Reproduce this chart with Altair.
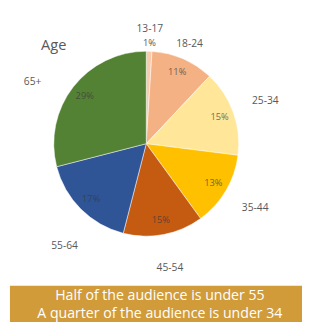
import altair as alt
import pandas as pd

categories = ["13-17", "18-24", "25-34", "35-44", "45-54", "55-64", "65+"]
values = [1, 11, 15, 13, 14, 17, 29]
pct_labels = ["1%", "11%", "15%", "13%", "15%", "17%", "29%"]
colors = ["#F8CBAD", "#F4B183", "#FFE699", "#FFC000", "#C55A11", "#2F5597", "#548235"]
title_text = "Age"
caption = ["Half of the audience is under 55", "A quarter of the audience is under 34"]

df = pd.DataFrame({
    "cat": categories,
    "value": values,
    "pct": pct_labels,
    "idx": list(range(len(categories))),
})

CX, CY = 142, 129

base = alt.Chart(df).encode(
    theta=alt.Theta("value:Q", stack=True),
    order=alt.Order("idx:Q"),
    x=alt.value(CX),
    y=alt.value(CY),
)

pie = base.mark_arc(outerRadius=95, stroke="white", strokeWidth=0.5).encode(
    color=alt.Color("cat:N", scale=alt.Scale(domain=categories, range=colors), legend=None)
)

inner = base.mark_text(
    radius=80, fontSize=9.5, font="Open Sans", color="#3a3a3a", opacity=0.7
).encode(text=alt.condition(alt.datum.idx > 0, "pct:N", alt.value("")))

small = base.mark_text(
    radius=103, fontSize=9.5, font="Open Sans", color="#595959"
).encode(text=alt.condition(alt.datum.idx == 0, "pct:N", alt.value("")))

outer_first = base.mark_text(
    radius=118, fontSize=10.5, font="Open Sans", color="#595959"
).encode(text=alt.condition(alt.datum.idx == 0, "cat:N", alt.value("")))

outer_second = base.mark_text(
    radius=112, fontSize=10.5, font="Open Sans", color="#595959"
).encode(text=alt.condition(alt.datum.idx == 1, "cat:N", alt.value("")))

outer_rest = base.mark_text(
    radius=130, fontSize=10.5, font="Open Sans", color="#595959"
).encode(text=alt.condition((alt.datum.idx > 1) & (alt.datum.idx < 5), "cat:N", alt.value("")))

outer_55 = base.mark_text(
    radius=130, fontSize=10.5, font="Open Sans", color="#595959", dx=8, dy=13
).encode(text=alt.condition(alt.datum.idx == 5, "cat:N", alt.value("")))

outer_last = base.mark_text(
    radius=130, fontSize=10.5, font="Open Sans", color="#595959", dx=-14, dy=16
).encode(text=alt.condition(alt.datum.idx == 6, "cat:N", alt.value("")))

title = alt.Chart(pd.DataFrame({"t": [title_text]})).mark_text(
    fontSize=15, font="Open Sans", color="#595959", align="center"
).encode(text="t:N", x=alt.value(47), y=alt.value(28))

banner = alt.Chart(pd.DataFrame({"a": [0]})).mark_rect(color="#D19B3A").encode(
    x=alt.value(2), x2=alt.value(302), y=alt.value(275), y2=alt.value(316)
)

cap1 = alt.Chart(pd.DataFrame({"line": [caption[0]]})).mark_text(
    fontSize=14.5, font="Open Sans", color="white", align="center", baseline="middle"
).encode(text="line:N", x=alt.value(156), y=alt.value(286))

cap2 = alt.Chart(pd.DataFrame({"line": [caption[1]]})).mark_text(
    fontSize=14.5, font="Open Sans", color="white", align="center", baseline="middle"
).encode(text="line:N", x=alt.value(156), y=alt.value(304))

chart = alt.layer(pie, inner, small, outer_first, outer_second, outer_rest, outer_55, outer_last,
                  title, banner, cap1, cap2).properties(
    width=300, height=312, padding=0
).configure_view(stroke=None)

chart.save("out.html", embed_options={"renderer": "svg", "actions": False})
